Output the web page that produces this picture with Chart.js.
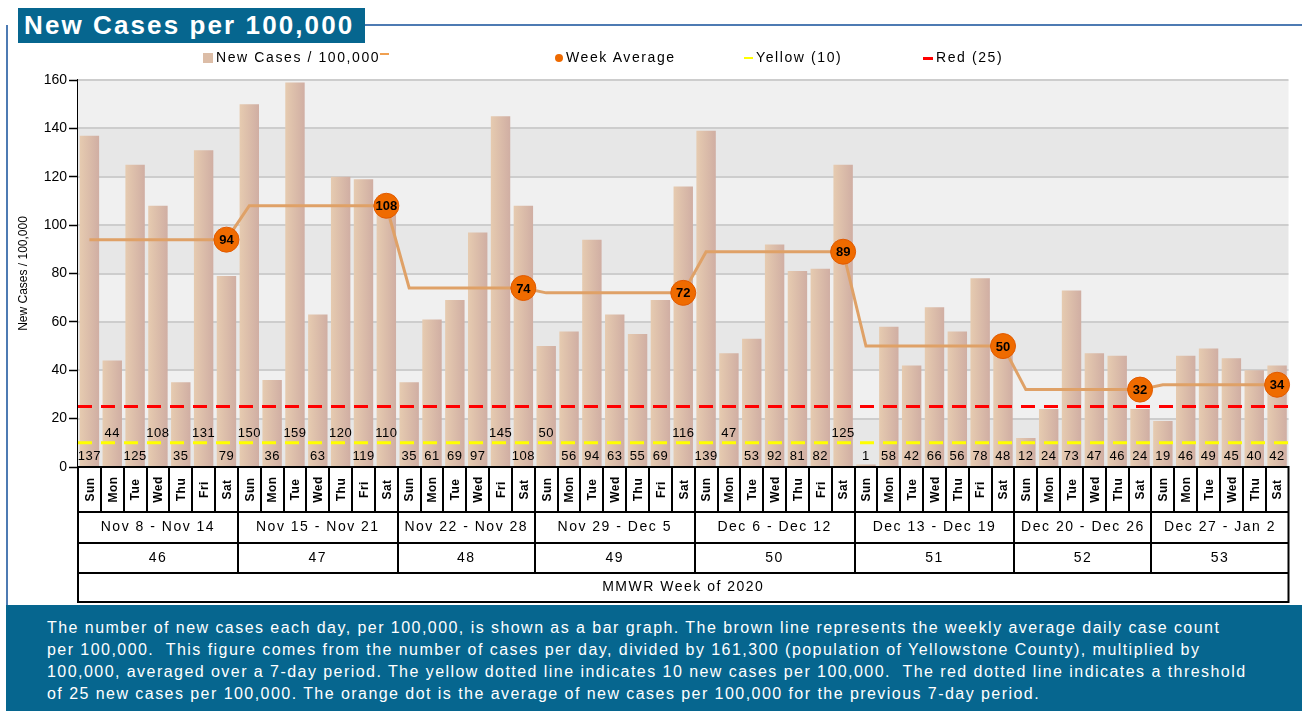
<!DOCTYPE html>
<html>
<head>
<meta charset="utf-8">
<title>New Cases per 100,000</title>
<script src="https://cdn.jsdelivr.net/npm/chart.js@4.4.1/dist/chart.umd.min.js"></script>
<style>
  html, body { margin: 0; padding: 0; background: #fff; }
  body { width: 1302px; height: 711px; position: relative; overflow: hidden; font-family: "Liberation Sans", Arial, sans-serif; }
  #frame-left { position: absolute; left: 6px; top: 25px; width: 2px; height: 582px; background: #4d7bb3; }
  #frame-top { position: absolute; left: 360px; top: 24px; width: 942px; height: 2px; background: #4d7bb3; }
  #title { position: absolute; left: 18px; top: 8px; height: 35px; width: 347px; background: #06668f; color: #fff;
           font: bold 26px "Liberation Sans", Arial, sans-serif; letter-spacing: 2.1px; line-height: 35px; text-indent: 6px; white-space: nowrap; }
  #chart-wrap { position: absolute; left: 0; top: 0; width: 1302px; height: 605px; }
  #legend { position: absolute; top: 48px; left: 0; width: 1302px; height: 18px; font-size: 14px; letter-spacing: 1.6px; color: #000; }
  #legend .item { position: absolute; top: 0; line-height: 18px; white-space: nowrap; }
  #legend .mark { display: inline-block; vertical-align: middle; margin-right: 3px; }
  #note { position: absolute; left: 6px; top: 605px; width: 1255px; height: 94px; padding: 12px 0 0 41px; background: #06668f;
          color: #fff; font-size: 16px; letter-spacing: 1.45px; line-height: 22px; white-space: nowrap; }
</style>
</head>
<body>
<div id="frame-left"></div>
<div id="frame-top"></div>
<div id="chart-wrap"><canvas id="cases-chart"></canvas></div>
<div id="title">New Cases per 100,000</div>
<div id="legend">
  <div class="item" style="left:203px"><span class="mark" style="width:10px;height:10px;background:#dcbda7"></span>New Cases / 100,000<span class="mark" style="width:9px;height:2px;background:#f0a050;margin:0 0 8px 0"></span></div>
  <div class="item" style="left:555px"><span class="mark" style="width:8px;height:8px;border-radius:50%;background:#ee6a00"></span>Week Average</div>
  <div class="item" style="left:744px"><span class="mark" style="width:9px;height:2px;background:#ffff00"></span>Yellow (10)</div>
  <div class="item" style="left:923px"><span class="mark" style="width:10px;height:3px;background:#ff0000"></span>Red (25)</div>
</div>
<div id="note">
  The number of new cases each day, per 100,000, is shown as a bar graph. The brown line represents the weekly average daily case count<br>
  per 100,000.&nbsp; This figure comes from the number of cases per day, divided by 161,300 (population of Yellowstone County), multiplied by<br>
  100,000, averaged over a 7-day period. The yellow dotted line indicates 10 new cases per 100,000.&nbsp; The red dotted line indicates a threshold<br>
  of 25 new cases per 100,000. The orange dot is the average of new cases per 100,000 for the previous 7-day period.
</div>
<script>
(function () {
    'use strict';

    /* ─── Data ─── */
    var DAY_LABELS = [
        'Sun', 'Mon', 'Tue', 'Wed', 'Thu', 'Fri', 'Sat',
        'Sun', 'Mon', 'Tue', 'Wed', 'Thu', 'Fri', 'Sat',
        'Sun', 'Mon', 'Tue', 'Wed', 'Fri', 'Sat',
        'Sun', 'Mon', 'Tue', 'Wed', 'Thu', 'Fri', 'Sat',
        'Sun', 'Mon', 'Tue', 'Wed', 'Thu', 'Fri', 'Sat',
        'Sun', 'Mon', 'Tue', 'Wed', 'Thu', 'Fri', 'Sat',
        'Sun', 'Mon', 'Tue', 'Wed', 'Thu', 'Sat',
        'Sun', 'Mon', 'Tue', 'Wed', 'Thu', 'Sat'
    ];
    var NEW_CASES = [
        137, 44, 125, 108, 35, 131, 79,
        150, 36, 159, 63, 120, 119, 110,
        35, 61, 69, 97, 145, 108,
        50, 56, 94, 63, 55, 69, 116,
        139, 47, 53, 92, 81, 82, 125,
        1, 58, 42, 66, 56, 78, 48,
        12, 24, 73, 47, 46, 24,
        19, 46, 49, 45, 40, 42
    ];
    var WEEK_DAY_COUNTS = [7, 7, 6, 7, 7, 7, 6, 6];
    var WEEK_RANGES = ['Nov 8 - Nov 14', 'Nov 15 - Nov 21', 'Nov 22 - Nov 28', 'Nov 29 - Dec 5',
                       'Dec 6 - Dec 12', 'Dec 13 - Dec 19', 'Dec 20 - Dec 26', 'Dec 27 - Jan 2'];
    var MMWR_WEEKS = ['46', '47', '48', '49', '50', '51', '52', '53'];
    var WEEK_AVERAGES = [94, 108, 74, 72, 89, 50, 32, 34];
    var Y_MIN = 0, Y_MAX = 160, Y_STEP = 20;
    var YELLOW_LEVEL = 10;
    var RED_LEVEL = 25;
    var AXIS_FOOTER = 'MMWR Week of 2020';

    // which week each bar belongs to, and where each week ends
    var weekOf = [];
    var weekEnds = [];
    WEEK_DAY_COUNTS.forEach(function (n, w) {
        for (var k = 0; k < n; k++) weekOf.push(w);
        weekEnds.push(weekOf.length - 1);
    });
    var avgLine = weekOf.map(function (w) { return WEEK_AVERAGES[w]; });
    function isWeekEnd(i) { return weekEnds.indexOf(i) !== -1; }

    var FONT = '"Liberation Sans", Arial, sans-serif';
    var BAR_PCT = 0.85;

    function spacing(ctx, px) {
        if ('letterSpacing' in ctx) ctx.letterSpacing = px;
    }

    function barFill(c) {
        var chart = c.chart, xs = chart.scales && chart.scales.x;
        if (!xs || c.type !== 'data' || !xs.width) return '#dbbca6';
        var x = xs.getPixelForValue(c.dataIndex);
        var half = (xs.width / NEW_CASES.length) * BAR_PCT / 2;
        var g = chart.ctx.createLinearGradient(x - half, 0, x + half, 0);
        g.addColorStop(0, '#e6cbb0');
        g.addColorStop(1, '#d0aea3');
        return g;
    }

    /* ─── Plot background bands ─── */
    var bandsPlugin = {
        id: 'bands',
        beforeDatasetsDraw: function (chart) {
            var ctx = chart.ctx, a = chart.chartArea, ys = chart.scales.y;
            ctx.save();
            for (var v = Y_MIN, k = 0; v < Y_MAX; v += Y_STEP, k++) {
                var top = ys.getPixelForValue(v + Y_STEP), bottom = ys.getPixelForValue(v);
                ctx.fillStyle = k % 2 === 0 ? '#e7e7e7' : '#f0f0f0';
                ctx.fillRect(a.left, top, a.right - a.left, bottom - top);
            }
            ctx.strokeStyle = '#cdcdcd';
            ctx.lineWidth = 2;
            for (var t = Y_MIN + Y_STEP; t <= Y_MAX; t += Y_STEP) {
                var y = Math.round(ys.getPixelForValue(t));
                ctx.beginPath();
                ctx.moveTo(a.left, y);
                ctx.lineTo(a.right, y);
                ctx.stroke();
            }
            ctx.restore();
        }
    };

    /* ─── Threshold lines + bar value labels, drawn after the bars ─── */
    var overlayPlugin = {
        id: 'overlay',
        afterDatasetDraw: function (chart, args) {
            if (args.index !== 0) return;
            var ctx = chart.ctx, a = chart.chartArea, ys = chart.scales.y, xs = chart.scales.x;
            ctx.save();

            [[YELLOW_LEVEL, '#ffff00'], [RED_LEVEL, '#ff0000']].forEach(function (t) {
                var y = ys.getPixelForValue(t[0]);
                ctx.strokeStyle = t[1];
                ctx.lineWidth = 3;
                ctx.setLineDash([14, 9]);
                ctx.beginPath();
                ctx.moveTo(a.left, y);
                ctx.lineTo(a.right, y);
                ctx.stroke();
            });
            ctx.setLineDash([]);

            // value labels along the bottom, stacked upward when they would collide
            ctx.font = '13px ' + FONT;
            spacing(ctx, '0.5px');
            ctx.fillStyle = '#000';
            ctx.textAlign = 'center';
            ctx.textBaseline = 'middle';
            var lastRight = [];
            NEW_CASES.forEach(function (v, i) {
                var txt = String(v);
                var x = xs.getPixelForValue(i);
                var w = ctx.measureText(txt).width;
                var lv = 0;
                while (lastRight[lv] !== undefined && x - w / 2 < lastRight[lv] + 6) lv++;
                lastRight[lv] = x + w / 2;
                ctx.fillText(txt, x, a.bottom - 11 - lv * 22.5);
            });
            ctx.restore();
        },
        afterDatasetsDraw: function (chart) {
            var ctx = chart.ctx, meta = chart.getDatasetMeta(1);
            ctx.save();
            ctx.font = 'bold 13px ' + FONT;
            ctx.fillStyle = '#000';
            ctx.textAlign = 'center';
            ctx.textBaseline = 'middle';
            weekEnds.forEach(function (i, w) {
                var pt = meta.data[i];
                ctx.fillText(String(WEEK_AVERAGES[w]), pt.x, pt.y + 1);
            });
            ctx.restore();
        }
    };

    /* ─── Category table under the x axis ─── */
    var tablePlugin = {
        id: 'axisTable',
        afterDraw: function (chart) {
            var ctx = chart.ctx, a = chart.chartArea, xs = chart.scales.x;
            var step = xs.width / NEW_CASES.length;
            var rows = [a.bottom, a.bottom + 45, a.bottom + 76, a.bottom + 106, a.bottom + 135];
            ctx.save();
            ctx.fillStyle = '#fff';
            ctx.fillRect(a.left, rows[0], a.right - a.left, rows[4] - rows[0]);
            ctx.strokeStyle = '#000';
            ctx.lineWidth = 2;

            function hline(y) { ctx.beginPath(); ctx.moveTo(a.left, y); ctx.lineTo(a.right, y); ctx.stroke(); }
            function vline(x, y0, y1) { ctx.beginPath(); ctx.moveTo(x, y0); ctx.lineTo(x, y1); ctx.stroke(); }

            rows.forEach(hline);
            vline(a.left, rows[0] - 1, rows[4] + 1);
            vline(a.right, rows[0] - 1, rows[4] + 1);
            for (var i = 1; i < NEW_CASES.length; i++) {
                var bx = Math.round(a.left + i * step);
                var weekBreak = weekEnds.indexOf(i - 1) !== -1;
                vline(bx, rows[0], weekBreak ? rows[3] : rows[1]);
            }

            ctx.fillStyle = '#000';
            ctx.textAlign = 'center';
            ctx.textBaseline = 'middle';

            // rotated day names
            ctx.font = 'bold 12px ' + FONT;
            spacing(ctx, '0.5px');
            DAY_LABELS.forEach(function (d, i) {
                var x = xs.getPixelForValue(i);
                ctx.save();
                ctx.translate(x, (rows[0] + rows[1]) / 2);
                ctx.rotate(-Math.PI / 2);
                ctx.fillText(d, 0, 1);
                ctx.restore();
            });

            // week ranges and MMWR numbers
            spacing(ctx, '1.5px');
            var start = 0;
            WEEK_DAY_COUNTS.forEach(function (n, w) {
                var x0 = a.left + start * step, x1 = a.left + (start + n) * step;
                ctx.font = '14px ' + FONT;
                ctx.fillText(WEEK_RANGES[w], (x0 + x1) / 2, (rows[1] + rows[2]) / 2);
                ctx.font = '14px ' + FONT;
                ctx.fillText(MMWR_WEEKS[w], (x0 + x1) / 2, (rows[2] + rows[3]) / 2);
                start += n;
            });
            ctx.font = '14px ' + FONT;
            ctx.fillText(AXIS_FOOTER, (a.left + a.right) / 2, (rows[3] + rows[4]) / 2);
            ctx.restore();
        }
    };

    var canvas = document.getElementById('cases-chart');
    new Chart(canvas, {
        type: 'bar',
        data: {
            labels: DAY_LABELS,
            datasets: [
                {
                    label: 'New Cases / 100,000',
                    data: NEW_CASES,
                    backgroundColor: barFill,
                    borderWidth: 0,
                    barPercentage: BAR_PCT,
                    categoryPercentage: 1,
                    order: 2
                },
                {
                    type: 'line',
                    label: 'Week Average',
                    data: avgLine,
                    borderColor: '#dfa167',
                    borderWidth: 3,
                    tension: 0,
                    pointRadius: function (c) { return isWeekEnd(c.dataIndex) ? 12.5 : 0; },
                    pointBackgroundColor: '#ef6b00',
                    pointBorderColor: '#e25a00',
                    pointBorderWidth: 1,
                    order: 1
                }
            ]
        },
        options: {
            responsive: true,
            maintainAspectRatio: false,
            animation: false,
            layout: { padding: { left: 10, right: 7, top: 80, bottom: 3 } },
            plugins: {
                legend: { display: false },
                tooltip: { enabled: false }
            },
            scales: {
                x: {
                    offset: true,
                    grid: { display: false },
                    border: { display: false },
                    ticks: { display: false },
                    afterFit: function (s) { s.height = 135; }
                },
                y: {
                    min: Y_MIN,
                    max: Y_MAX,
                    ticks: { stepSize: Y_STEP, color: '#000', font: { size: 14, family: FONT }, padding: 2 },
                    grid: { drawOnChartArea: false, tickLength: 9, tickColor: '#000', tickWidth: 1.5 },
                    border: { color: '#000', width: 2 },
                    title: { display: true, text: 'New Cases / 100,000', color: '#000', font: { size: 12, family: FONT }, padding: { top: 6, bottom: 0 } },
                    afterFit: function (s) { s.width = 68; }
                }
            }
        },
        plugins: [bandsPlugin, overlayPlugin, tablePlugin]
    });
})();
</script>
</body>
</html>
